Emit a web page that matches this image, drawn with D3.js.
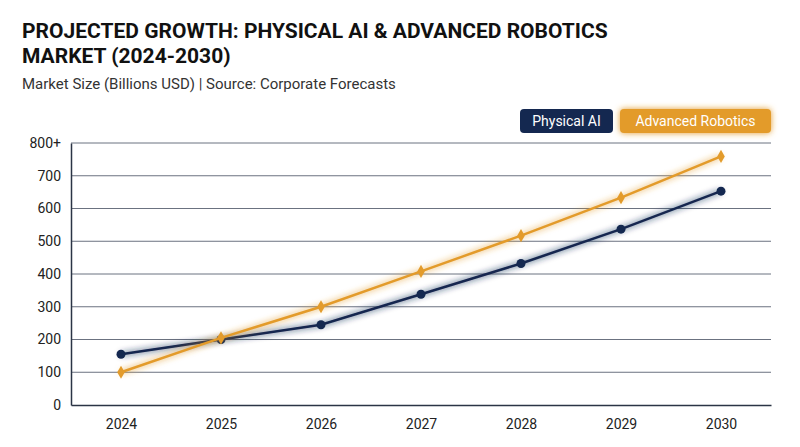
<!DOCTYPE html>
<html><head><meta charset="utf-8">
<script src="https://cdn.jsdelivr.net/npm/d3@7"></script>
<style>body{margin:0;background:#fff;font-family:Roboto,sans-serif}</style>
</head><body><svg width="800" height="447"></svg>
<script>
var years = ["2024","2025","2026","2027","2028","2029","2030"];
var physicalAI = [155, 200, 245, 338, 432, 537, 653];
var robotics = [100, 205, 300, 408, 517, 633, 759];
var yTicks = [0,100,200,300,400,500,600,700,800];

var svg = d3.select("svg");
var navy = "#142850", gold = "#E39B2B";
var margin = {left: 71, right: 29, top: 143, bottom: 42};
var width = 800 - margin.left - margin.right, height = 447 - margin.top - margin.bottom;

var defs = svg.append("defs");
function glow(id, blur){
    var f = defs.append("filter").attr("id", id).attr("x","-20%").attr("y","-50%").attr("width","140%").attr("height","200%");
    f.append("feGaussianBlur").attr("stdDeviation", blur).attr("result","b");
    var m = f.append("feMerge");
    m.append("feMergeNode").attr("in","b");
    m.append("feMergeNode").attr("in","SourceGraphic");
}
glow("glow", 3);

svg.append("text").attr("x",22).attr("y",38).attr("font-size",21).attr("font-weight",700).attr("fill","#111")
    .text("PROJECTED GROWTH: PHYSICAL AI & ADVANCED ROBOTICS");
svg.append("text").attr("x",22).attr("y",63).attr("font-size",21).attr("font-weight",700).attr("fill","#111")
    .text("MARKET (2024-2030)");
svg.append("text").attr("x",22).attr("y",89).attr("font-size",15).attr("fill","#333")
    .text("Market Size (Billions USD) | Source: Corporate Forecasts");

var g = svg.append("g").attr("transform","translate("+margin.left+","+margin.top+")");
var x = d3.scalePoint().domain(years).range([0,width]).padding(0.5);
var y = d3.scaleLinear().domain([0,800]).range([height,0]);

g.selectAll("line.grid").data(yTicks.slice(1)).enter().append("line")
    .attr("x1",0).attr("x2",width).attr("y1",function(d){return y(d);}).attr("y2",function(d){return y(d);})
    .attr("stroke","#6b7280").attr("stroke-width",1);

var yAxis = g.append("g").call(d3.axisLeft(y).tickValues(yTicks).tickSize(0).tickPadding(10)
    .tickFormat(function(d){return d==800 ? "800+" : d;}));
yAxis.select(".domain").attr("stroke","#2b3445").attr("stroke-width",1.5);
yAxis.selectAll("text").attr("font-size",14).attr("fill","#222").attr("font-family","Roboto,sans-serif");

var xAxis = g.append("g").attr("transform","translate(0,"+height+")").call(d3.axisBottom(x).tickSize(0).tickPadding(14));
xAxis.select(".domain").attr("stroke","#2b3445").attr("stroke-width",1.5);
xAxis.selectAll("text").attr("font-size",14).attr("fill","#222").attr("font-family","Roboto,sans-serif");

var line = d3.line().x(function(d,i){return x(years[i]);}).y(function(d){return y(d);});

g.append("path").datum(physicalAI).attr("d",line).attr("fill","none").attr("stroke",navy).attr("stroke-width",2.5).attr("filter","url(#glow)");
g.selectAll("circle.pa").data(physicalAI).enter().append("circle")
    .attr("cx",function(d,i){return x(years[i]);}).attr("cy",function(d){return y(d);}).attr("r",4.5).attr("fill",navy);

g.append("path").datum(robotics).attr("d",line).attr("fill","none").attr("stroke",gold).attr("stroke-width",2.5).attr("filter","url(#glow)");
g.selectAll("path.rb").data(robotics).enter().append("path")
    .attr("d",d3.symbol().type(d3.symbolDiamond).size(50))
    .attr("transform",function(d,i){return "translate("+x(years[i])+","+y(d)+")";}).attr("fill",gold);

// legend
var legend = [{name:"Physical AI", color:navy, x:520, w:93},{name:"Advanced Robotics", color:gold, x:620, w:151}];
var lg = svg.selectAll("g.lg").data(legend).enter().append("g")
    .attr("transform",function(d){return "translate("+d.x+",109)";});
lg.append("rect").attr("width",function(d){return d.w;}).attr("height",24).attr("rx",4)
    .attr("fill",function(d){return d.color;}).attr("filter",function(d,i){return i ? "url(#glow)" : null;});
lg.append("text").attr("x",function(d){return d.w/2;}).attr("y",17).attr("text-anchor","middle")
    .attr("font-size",14).attr("fill","#fff").text(function(d){return d.name;});
</script></body></html>
